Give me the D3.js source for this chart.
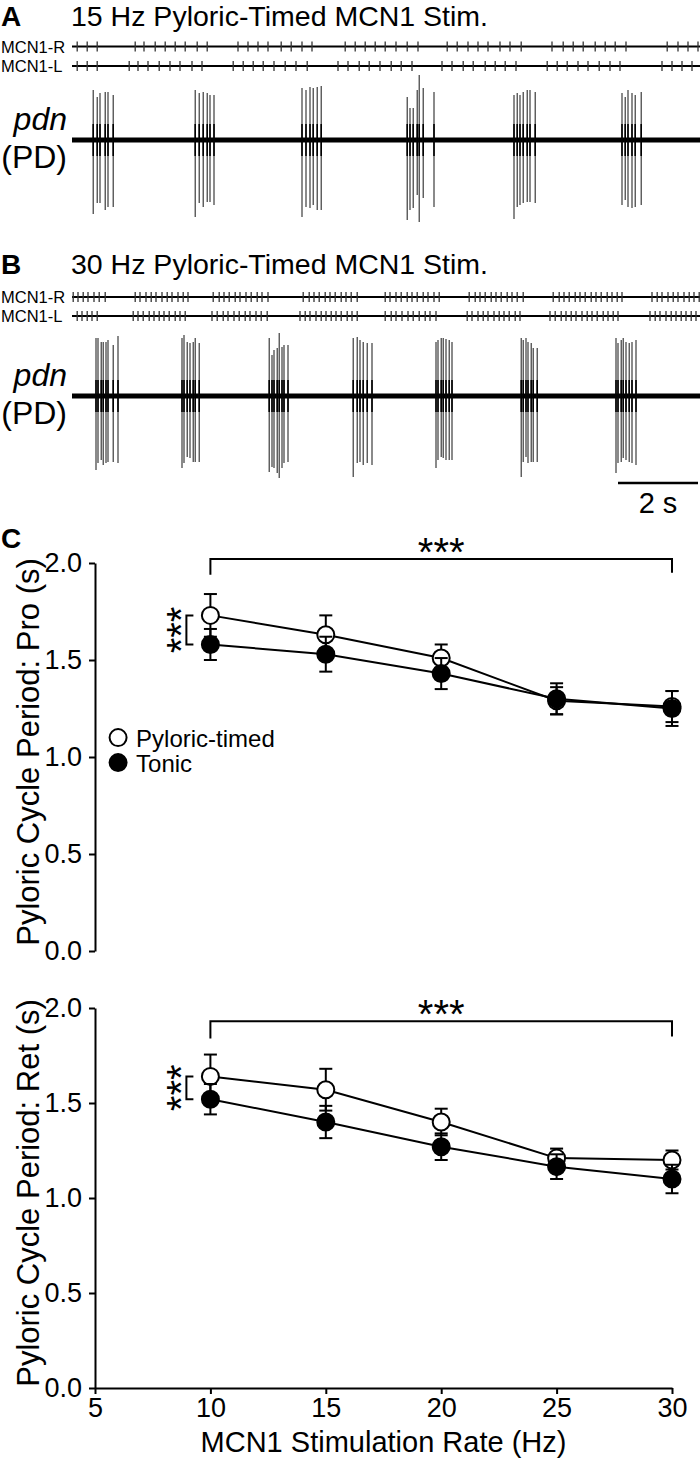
<!DOCTYPE html>
<html><head><meta charset="utf-8">
<script src="https://cdn.jsdelivr.net/npm/d3@7"></script>
<style>
body{margin:0;background:#fff}
svg{display:block}
text{font-family:"Liberation Sans",Arial,Helvetica,sans-serif;fill:#000}
</style>
</head><body>
<svg id="c" width="700" height="1463"></svg>
<script>
// ---------------- DATA ----------------
// Panel C summary data (seconds), x = MCN1 stimulation rate (Hz)
const rates = [10, 15, 20, 25, 30];
const proTimed    = [1.73, 1.63, 1.51, 1.29, 1.26];
const proTimedErr = [0.11, 0.10, 0.07, 0.07, 0.08];
const proTonic    = [1.58, 1.53, 1.43, 1.30, 1.25];
const proTonicErr = [0.08, 0.09, 0.08, 0.08, 0.09];
const retTimed    = [1.64, 1.57, 1.40, 1.21, 1.20];
const retTimedErr = [0.115, 0.11, 0.07, 0.05, 0.05];
const retTonic    = [1.52, 1.40, 1.27, 1.165, 1.10];
const retTonicErr = [0.08, 0.085, 0.07, 0.065, 0.075];
const yTickValues = [0, 0.5, 1.0, 1.5, 2.0];
const xTickValues = [5, 10, 15, 20, 25, 30];
const seriesNames = ["Pyloric-timed", "Tonic"];

// Panel A: 15 Hz pyloric-timed stimulation marks (s)
const stimA_R = [0.13,0.38,0.63, 1.58,1.8,2.08,2.33,2.58,2.83,3.13,3.38, 4.15,4.4,4.65,4.9,5.23,5.48,5.75,6.0,
  6.83,7.08,7.33,7.58,7.83,8.1,8.38,8.65, 9.38,9.63,9.9,10.15,10.4,10.7,10.95,11.23,
  12.0,12.28,12.53,12.78,13.08,13.33,13.58,13.85, 14.88,15.15,15.4,15.65];
const stimA_L = [0.13,0.38,0.63, 1.43,1.65,1.9,2.18,2.45,2.7,3.0,3.25, 4.03,4.28,4.53,4.78,5.05,5.33,5.6,5.88,
  6.65,6.9,7.18,7.43,7.7,7.98,8.23,8.5, 9.25,9.5,9.78,10.03,10.33,10.58,10.83,11.1,
  11.88,12.13,12.38,12.65,12.9,13.18,13.45,13.7, 14.75,15.0,15.25,15.5];
// Panel B: 30 Hz pyloric-timed stimulation marks (s)
const stimB_R = [0.03,0.15,0.28,0.4,0.55,0.68,0.83,
  1.58,1.7,1.85,1.98,2.1,2.25,2.38,2.5,2.65,2.78,2.9,
  3.53,3.68,3.8,3.93,4.08,4.2,4.35,4.48,4.63,4.75,4.9,
  5.78,5.93,6.05,6.18,6.33,6.45,6.58,6.73,6.85,6.98,7.13,
  7.83,7.95,8.1,8.23,8.38,8.5,8.63,8.78,8.9,9.05,9.18,
  9.93,10.08,10.2,10.33,10.48,10.6,10.73,10.88,11.0,11.13,11.28,
  12.03,12.18,12.3,12.43,12.58,12.7,12.83,12.98,13.1,13.23,13.38,13.5,13.63,13.75,
  14.5,14.63,14.75,14.9,15.03,15.15,15.3,15.43,15.55,15.68];
const stimB_L = [0.13,0.25,0.38,0.5,0.63,
  1.53,1.65,1.78,1.93,2.05,2.18,2.3,2.43,2.58,2.7,2.83,
  3.5,3.63,3.78,3.9,4.05,4.18,4.33,4.45,4.6,4.73,4.88,
  5.7,5.83,5.95,6.1,6.23,6.35,6.48,6.6,6.73,6.88,7.0,7.13,
  7.83,7.98,8.1,8.25,8.4,8.53,8.68,8.83,8.95,9.1,
  9.88,10.0,10.15,10.28,10.4,10.55,10.68,10.8,10.93,11.08,11.2,
  11.95,12.08,12.23,12.35,12.48,12.6,12.75,12.88,13.0,13.13,13.28,13.4,13.53,13.65,
  14.45,14.58,14.7,14.85,14.98,15.1,15.23,15.35,15.48,15.6];

// pdn extracellular spikes: time (s), positive peak, negative peak (arbitrary units)
const pdnA_t = [0.53,0.63,0.7,0.83,0.9,1.03, 3.08,3.18,3.28,3.38,3.45,3.55, 5.75,5.85,5.95,6.03,6.13,6.23,
  8.38,8.45,8.53,8.63,8.68,8.78,9.05, 11.05,11.13,11.2,11.28,11.38,11.45,11.58, 13.75,13.83,13.9,14.0,14.08,14.23];
const pdnA_up = [50,43,47,48,48,45, 50,47,48,47,45,45, 52,50,53,52,53,54,
  43,32,32,50,65,52,48, 45,47,45,48,50,50,48, 47,43,50,47,45,48];
const pdnA_dn = [-74,-63,-63,-70,-67,-67, -77,-63,-67,-62,-62,-65, -77,-67,-68,-65,-70,-70,
  -80,-70,-68,-55,-82,-58,-67, -79,-67,-65,-63,-62,-62,-63, -65,-60,-67,-68,-67,-65];
const pdnB_t = [0.6,0.65,0.73,0.78,0.85,0.9,1.03,1.15, 2.75,2.8,2.88,2.95,3.03,3.08,3.18,
  4.93,5.0,5.05,5.13,5.18,5.25,5.3,5.4, 7.03,7.13,7.2,7.28,7.38,7.5,
  9.1,9.15,9.23,9.28,9.35,9.43,9.5, 11.23,11.28,11.35,11.4,11.48,11.53,11.63,
  13.6,13.65,13.73,13.78,13.85,13.93,14.0,14.1];
const pdnB_up = [58,58,54,54,54,56,51,60, 58,61,54,53,54,58,53, 58,41,46,48,63,49,51,51, 58,59,56,54,53,53,
  54,56,58,58,57,56,54, 58,56,58,54,53,48,48, 58,53,56,58,54,53,54,56];
const pdnB_dn = [-74,-67,-64,-69,-67,-66,-66,-67, -72,-67,-61,-62,-66,-66,-66, -76,-71,-72,-77,-82,-72,-67,-66,
  -81,-67,-66,-69,-67,-69, -72,-64,-61,-62,-64,-64,-64, -81,-66,-61,-67,-66,-66,-66,
  -77,-67,-66,-62,-64,-66,-67,-69];

// ---------------- DRAW ----------------
const svg = d3.select("#c");
const FONT = '"Liberation Sans",Arial,Helvetica,sans-serif';

const tx = d3.scaleLinear().domain([0, 15.7]).range([72, 700]);

function panelTrace(letter, title, yTitle, yR, yL, base, stimR, stimL, sT, sUp, sDn) {
  const g = svg.append("g");
  g.append("text").attr("x", 1).attr("y", yTitle).attr("font-size", 28).attr("font-weight", "bold").text(letter);
  g.append("text").attr("x", 71).attr("y", yTitle).attr("font-size", 28.5).text(title);
  [[yR, "MCN1-R", stimR], [yL, "MCN1-L", stimL]].forEach(([yy, lab, arr]) => {
    g.append("text").attr("x", 1).attr("y", yy + 6).attr("font-size", 16.5).text(lab);
    g.append("line").attr("x1", tx(0)).attr("x2", tx(15.7)).attr("y1", yy).attr("y2", yy)
      .attr("stroke", "#000").attr("stroke-width", 2);
    g.selectAll(null).data(arr).enter().append("line")
      .attr("x1", d => tx(d)).attr("x2", d => tx(d)).attr("y1", yy - 5).attr("y2", yy + 5)
      .attr("stroke", "#333").attr("stroke-width", 1.3);
  });
  const ay = d3.scaleLinear().domain([-100, 100]).range([base + 100, base - 100]);
  g.append("text").attr("x", 67).attr("y", base - 10).attr("font-size", 32).attr("font-style", "italic")
    .attr("text-anchor", "end").text("pdn");
  g.append("text").attr("x", 67).attr("y", base + 28).attr("font-size", 32)
    .attr("text-anchor", "end").text("(PD)");
  g.append("line").attr("x1", tx(0)).attr("x2", tx(15.7)).attr("y1", ay(0)).attr("y2", ay(0))
    .attr("stroke", "#000").attr("stroke-width", 5);
  const sp = sT.map((t, i) => ({t, up: sUp[i], dn: sDn[i]}));
  g.selectAll(null).data(sp).enter().append("line")
    .attr("x1", d => tx(d.t)).attr("x2", d => tx(d.t)).attr("y1", d => ay(d.dn)).attr("y2", d => ay(d.up))
    .attr("stroke", "#2a2a2a").attr("stroke-width", 1.1);
  g.selectAll(null).data(sp).enter().append("line")
    .attr("x1", d => tx(d.t)).attr("x2", d => tx(d.t)).attr("y1", ay(-16)).attr("y2", ay(16))
    .attr("stroke", "#000").attr("stroke-width", 1.6);
  return g;
}

panelTrace("A", "15 Hz Pyloric-Timed MCN1 Stim.", 26, 46.5, 66, 140, stimA_R, stimA_L, pdnA_t, pdnA_up, pdnA_dn);
const gB = panelTrace("B", "30 Hz Pyloric-Timed MCN1 Stim.", 274, 297, 316, 396, stimB_R, stimB_L, pdnB_t, pdnB_up, pdnB_dn);

// scale bar 2 s
gB.append("line").attr("x1", tx(13.65)).attr("x2", tx(15.65)).attr("y1", 483).attr("y2", 483)
  .attr("stroke", "#000").attr("stroke-width", 2.5);
gB.append("text").attr("x", (tx(13.65) + tx(15.65)) / 2).attr("y", 513).attr("font-size", 29)
  .attr("text-anchor", "middle").text("2 s");

// Panel C
svg.append("text").attr("x", 1).attr("y", 548).attr("font-size", 28).attr("font-weight", "bold").text("C");

const cx = d3.scaleLinear().domain([5, 30]).range([95, 672]);

function drawPlot(yBottom, yTop, timed, timedErr, tonic, tonicErr, ylabel, showX, sigY, sigDrop, legend) {
  const g = svg.append("g");
  const y = d3.scaleLinear().domain([0, 2]).range([yBottom, yTop]);
  const yAx = g.append("g").attr("transform", `translate(${cx(5)},0)`)
    .call(d3.axisLeft(y).tickValues(yTickValues).tickFormat(d3.format(".1f")).tickSize(6).tickSizeOuter(0).tickPadding(7));
  yAx.select(".domain").attr("stroke-width", 2);
  yAx.selectAll(".tick line").attr("stroke-width", 2);
  yAx.selectAll("text").attr("font-size", 27).attr("font-family", FONT).attr("fill", "#000");
  if (showX) {
    const xAx = g.append("g").attr("transform", `translate(0,${yBottom})`)
      .call(d3.axisBottom(cx).tickValues(xTickValues).tickSize(6).tickSizeOuter(0).tickPadding(4));
    xAx.select(".domain").attr("stroke-width", 2);
    xAx.selectAll(".tick line").attr("stroke-width", 2);
    xAx.selectAll("text").attr("font-size", 27).attr("font-family", FONT).attr("fill", "#000");
  }
  const yc = (yTop + yBottom) / 2 - 5;
  g.append("text").attr("transform", `translate(39,${yc}) rotate(-90)`).attr("text-anchor", "middle")
    .attr("font-size", 31).text(ylabel);

  const line = d3.line().x((d, i) => cx(rates[i])).y(d => y(d));
  function series(vals, errs, filled) {
    const pts = vals.map((v, i) => ({x: rates[i], v, e: errs[i]}));
    const eb = g.append("g").attr("stroke", "#000").attr("stroke-width", 2);
    pts.forEach(p => {
      eb.append("line").attr("x1", cx(p.x)).attr("x2", cx(p.x)).attr("y1", y(p.v - p.e)).attr("y2", y(p.v + p.e));
      [p.v - p.e, p.v + p.e].forEach(w => eb.append("line").attr("x1", cx(p.x) - 6.5).attr("x2", cx(p.x) + 6.5)
        .attr("y1", y(w)).attr("y2", y(w)));
    });
    g.append("path").datum(vals).attr("d", line).attr("fill", "none").attr("stroke", "#000").attr("stroke-width", 2);
    g.selectAll(null).data(pts).enter().append("circle")
      .attr("cx", d => cx(d.x)).attr("cy", d => y(d.v)).attr("r", 8.5)
      .attr("fill", filled ? "#000" : "#fff").attr("stroke", "#000").attr("stroke-width", 2);
  }
  series(timed, timedErr, false);
  series(tonic, tonicErr, true);

  // significance bracket across rates
  g.append("path").attr("d", `M${cx(10)},${y(sigDrop[0])}V${y(sigY)}H${cx(30)}V${y(sigDrop[1])}`)
    .attr("fill", "none").attr("stroke", "#000").attr("stroke-width", 2);
  g.append("text").attr("x", (cx(10) + cx(30)) / 2).attr("y", y(sigY) + 7).attr("text-anchor", "middle")
    .attr("font-size", 40).text("***");
  // bracket between conditions at 10 Hz
  const bx = cx(10) - 24;
  g.append("path").attr("d", `M${bx + 7},${y(timed[0])}H${bx}V${y(tonic[0])}H${bx + 7}`)
    .attr("fill", "none").attr("stroke", "#000").attr("stroke-width", 2);
  const bm = (y(timed[0]) + y(tonic[0])) / 2;
  g.append("text").attr("transform", `translate(${bx + 9},${bm}) rotate(-90)`).attr("text-anchor", "middle")
    .attr("font-size", 40).text("***");

  if (legend) {
    seriesNames.forEach((nm, i) => {
      const ly = y(legend[1]) + i * 25;
      g.append("circle").attr("cx", cx(legend[0])).attr("cy", ly).attr("r", 8.5)
        .attr("fill", i ? "#000" : "#fff").attr("stroke", "#000").attr("stroke-width", 2);
      g.append("text").attr("x", cx(legend[0]) + 18).attr("y", ly + 9).attr("font-size", 24).text(nm);
    });
  }
}

drawPlot(951, 563, proTimed, proTimedErr, proTonic, proTonicErr, "Pyloric Cycle Period: Pro (s)", false,
  2.02, [1.94, 1.95], [6.0, 1.10]);
drawPlot(1388, 1008, retTimed, retTimedErr, retTonic, retTonicErr, "Pyloric Cycle Period: Ret (s)", true,
  1.93, [1.84, 1.85], null);

svg.append("text").attr("x", cx(17.5)).attr("y", 1452).attr("text-anchor", "middle").attr("font-size", 29)
  .text("MCN1 Stimulation Rate (Hz)");
</script>
</body></html>
